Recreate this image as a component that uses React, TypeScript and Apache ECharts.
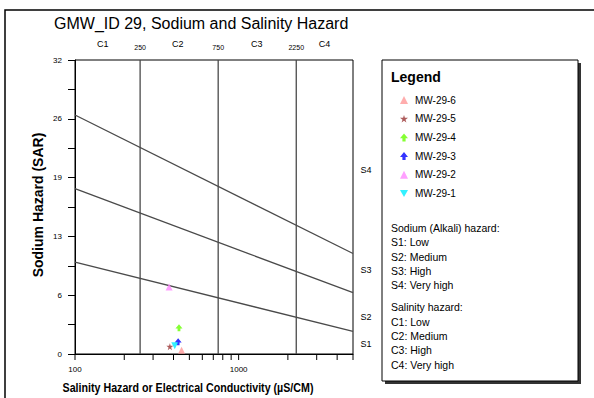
import React, { useEffect, useRef } from "react";
import * as echarts from "echarts";

const FONT = "'Liberation Sans', Arial, sans-serif";

// Sample names and values (EC in µS/cm, SAR)
const sampleNames = ["MW-29-6", "MW-29-5", "MW-29-4", "MW-29-3", "MW-29-2", "MW-29-1"];
const sampleEC = [448, 380, 432, 427, 376, 407];
const sampleSAR = [0.4, 0.8, 2.86, 1.34, 7.3, 0.9];
const sampleColors = ["#ff9999", "#993333", "#66ff00", "#0000ff", "#ff88ff", "#00eeff"];
const sampleSymbols = [
  "triangle",
  "path://M50,0 L61,35 L98,35 L68,57 L79,91 L50,70 L21,91 L32,57 L2,35 L39,35 Z",
  "path://M5,0 L10,6 L7,6 L7,10 L3,10 L3,6 L0,6 Z",
  "path://M5,0 L10,6 L7,6 L7,10 L3,10 L3,6 L0,6 Z",
  "triangle",
  "path://M0,0 L10,0 L5,9 Z",
];

// Sodium hazard boundary lines (endpoints at EC = 100 and 5000)
const s1s2Line = [[100, 10.0], [5000, 2.45]];
const s2s3Line = [[100, 17.99], [5000, 6.67]];
const s3s4Line = [[100, 26.01], [5000, 10.94]];

// Salinity boundaries
const salinityBounds = [250, 750, 2250];

// Axis ticks
const xTickValues = [100, 200, 300, 400, 500, 600, 700, 800, 900, 1000, 2000, 3000, 4000, 5000];
const xLabelValues = [100, 1000];

// Top labels over the plot
const topLabelValues = [148, 250, 425, 750, 1289, 2250, 3350];
const topLabelTexts = ["C1", "250", "C2", "750", "C3", "2250", "C4"];

// Right-side S labels
const sLabelValues = [20.0, 9.1, 4.0, 1.1];
const sLabelTexts = ["S4", "S3", "S2", "S1"];

const hazardLines = [
  "Sodium (Alkali) hazard:",
  "S1: Low",
  "S2: Medium",
  "S3: High",
  "S4: Very high",
  "",
  "Salinity hazard:",
  "C1: Low",
  "C2: Medium",
  "C3: High",
  "C4: Very high",
];

export default function App() {
  const ref = useRef<HTMLDivElement>(null);

  useEffect(() => {
    document.body.style.margin = "0";
    const chart = echarts.init(ref.current!, null, { renderer: "svg" });

    const lineStyle = { color: "#4a4a4a", width: 1.3 };

    const boundarySeries = [s1s2Line, s2s3Line, s3s4Line].map((d) => ({
      type: "line",
      data: d,
      symbol: "none",
      lineStyle,
      silent: true,
      z: 2,
    }));

    const verticalSeries = salinityBounds.map((v) => ({
      type: "line",
      data: [[v, 0], [v, 32]],
      symbol: "none",
      lineStyle,
      silent: true,
      z: 2,
    }));

    const scatterSeries = sampleNames.map((n, i) => ({
      type: "scatter",
      name: n,
      data: [[sampleEC[i], sampleSAR[i]]],
      symbol: sampleSymbols[i],
      symbolSize: 7,
      itemStyle: { color: sampleColors[i] },
      z: 5,
    }));

    const hazardY0 = 228;
    const hazardGap = 14.3;
    const hazardGraphics: any[] = [];
    let row = 0;
    hazardLines.forEach((t) => {
      if (t === "") {
        row += 0.55;
        return;
      }
      hazardGraphics.push({
        type: "text",
        x: 391,
        y: hazardY0 + row * hazardGap,
        z: 10,
        style: {
          text: t,
          font: `10.5px ${FONT}`,
          fill: "#000",
          textVerticalAlign: "middle",
          textAlign: "left",
        },
      });
      row += 1;
    });

    const option: any = {
      animation: false,
      backgroundColor: "#fff",
      grid: {
        left: 75,
        top: 60,
        width: 278,
        height: 294,
        show: true,
        borderColor: "#000",
        borderWidth: 1,
        containLabel: false,
      },
      xAxis: {
        type: "log",
        logBase: 10,
        min: 100,
        max: 5000,
        axisLine: { show: true, lineStyle: { color: "#000", width: 1 } },
        axisTick: { show: false },
        splitLine: { show: false },
        axisLabel: {
          fontSize: 8,
          fontFamily: FONT,
          color: "#000",
          margin: 11,
          showMaxLabel: false,
          formatter: (v: number) => (xLabelValues.includes(Math.round(v)) ? String(Math.round(v)) : ""),
        },
      },
      yAxis: {
        type: "value",
        min: 0,
        max: 32,
        interval: 6.4,
        axisLine: { show: true, lineStyle: { color: "#000", width: 1 } },
        axisTick: { show: true, length: 7, lineStyle: { color: "#000" } },
        minorTick: { show: true, splitNumber: 2, length: 7, lineStyle: { color: "#000" } },
        splitLine: { show: false },
        minorSplitLine: { show: false },
        axisLabel: {
          fontSize: 8,
          fontFamily: FONT,
          color: "#000",
          margin: 13,
          formatter: (v: number) => String(Math.round(v)),
        },
      },
      legend: {
        data: sampleNames,
        orient: "vertical",
        left: 395,
        top: 90,
        itemWidth: 8,
        itemHeight: 8,
        itemGap: 8.7,
        textStyle: {
          fontSize: 10,
          fontFamily: FONT,
          color: "#000",
          lineHeight: 10,
          padding: [0, 0, 0, 2],
        },
        z: 20,
      },
      graphic: [
        {
          type: "rect",
          shape: { x: 5, y: 10, width: 620, height: 420 },
          style: { fill: "none", stroke: "#000", lineWidth: 1.5 },
          z: -10,
          silent: true,
        },
        {
          type: "text",
          x: 54,
          y: 23,
          style: {
            text: "GMW_ID 29, Sodium and Salinity Hazard",
            font: `16px ${FONT}`,
            fill: "#000",
            textVerticalAlign: "middle",
            textAlign: "left",
          },
        },
        {
          type: "text",
          x: 38,
          y: 205,
          rotation: Math.PI / 2,
          style: {
            text: "Sodium Hazard (SAR)",
            font: `bold 14px ${FONT}`,
            fill: "#000",
            textVerticalAlign: "middle",
            textAlign: "center",
          },
        },
        {
          type: "text",
          x: 188,
          y: 388,
          scaleX: 0.89,
          style: {
            text: "Salinity Hazard or Electrical Conductivity (µS/CM)",
            font: `bold 12px ${FONT}`,
            fill: "#000",
            textVerticalAlign: "middle",
            textAlign: "center",
          },
        },
        {
          type: "rect",
          shape: { x: 385, y: 63, width: 196, height: 321 },
          style: { fill: "#333", stroke: "none" },
          z: 1,
        },
        {
          type: "rect",
          shape: { x: 382, y: 60, width: 196, height: 321 },
          style: { fill: "#fff", stroke: "#000", lineWidth: 1 },
          z: 2,
        },
        {
          type: "text",
          x: 391,
          y: 77,
          z: 10,
          style: {
            text: "Legend",
            font: `bold 14px ${FONT}`,
            fill: "#000",
            textVerticalAlign: "middle",
            textAlign: "left",
          },
        },
        ...hazardGraphics,
      ],
      series: [
        ...verticalSeries,
        ...boundarySeries,
        {
          type: "custom",
          data: xTickValues.map((v) => [v, 0]),
          encode: { x: 0, y: 1 },
          clip: false,
          silent: true,
          renderItem: (params: any, api: any) => {
            const p = api.coord([api.value(0), 0]);
            return {
              type: "line",
              shape: { x1: p[0], y1: p[1], x2: p[0], y2: p[1] + 6 },
              style: { stroke: "#000", lineWidth: 1 },
            };
          },
        },
        {
          type: "custom",
          data: topLabelValues.map((v) => [v, 32]),
          encode: { x: 0, y: 1 },
          clip: false,
          silent: true,
          renderItem: (params: any, api: any) => {
            const p = api.coord([api.value(0), 32]);
            const t = topLabelTexts[params.dataIndex];
            const isC = t.startsWith("C");
            return {
              type: "text",
              x: p[0],
              y: p[1] - (isC ? 16 : 13),
              style: {
                text: t,
                font: `${isC ? 9 : 7}px ${FONT}`,
                fill: "#000",
                textAlign: "center",
                textVerticalAlign: "middle",
              },
            };
          },
        },
        {
          type: "custom",
          data: sLabelValues.map((v) => [5000, v]),
          encode: { x: 0, y: 1 },
          clip: false,
          silent: true,
          renderItem: (params: any, api: any) => {
            const p = api.coord([5000, api.value(1)]);
            return {
              type: "text",
              x: p[0] + 13,
              y: p[1],
              style: {
                text: sLabelTexts[params.dataIndex],
                font: `9px ${FONT}`,
                fill: "#000",
                textAlign: "center",
                textVerticalAlign: "middle",
              },
            };
          },
        },
        ...scatterSeries,
      ],
    };

    chart.setOption(option);
    return () => chart.dispose();
  }, []);

  return <div ref={ref} style={{ width: 594, height: 398 }} />;
}
